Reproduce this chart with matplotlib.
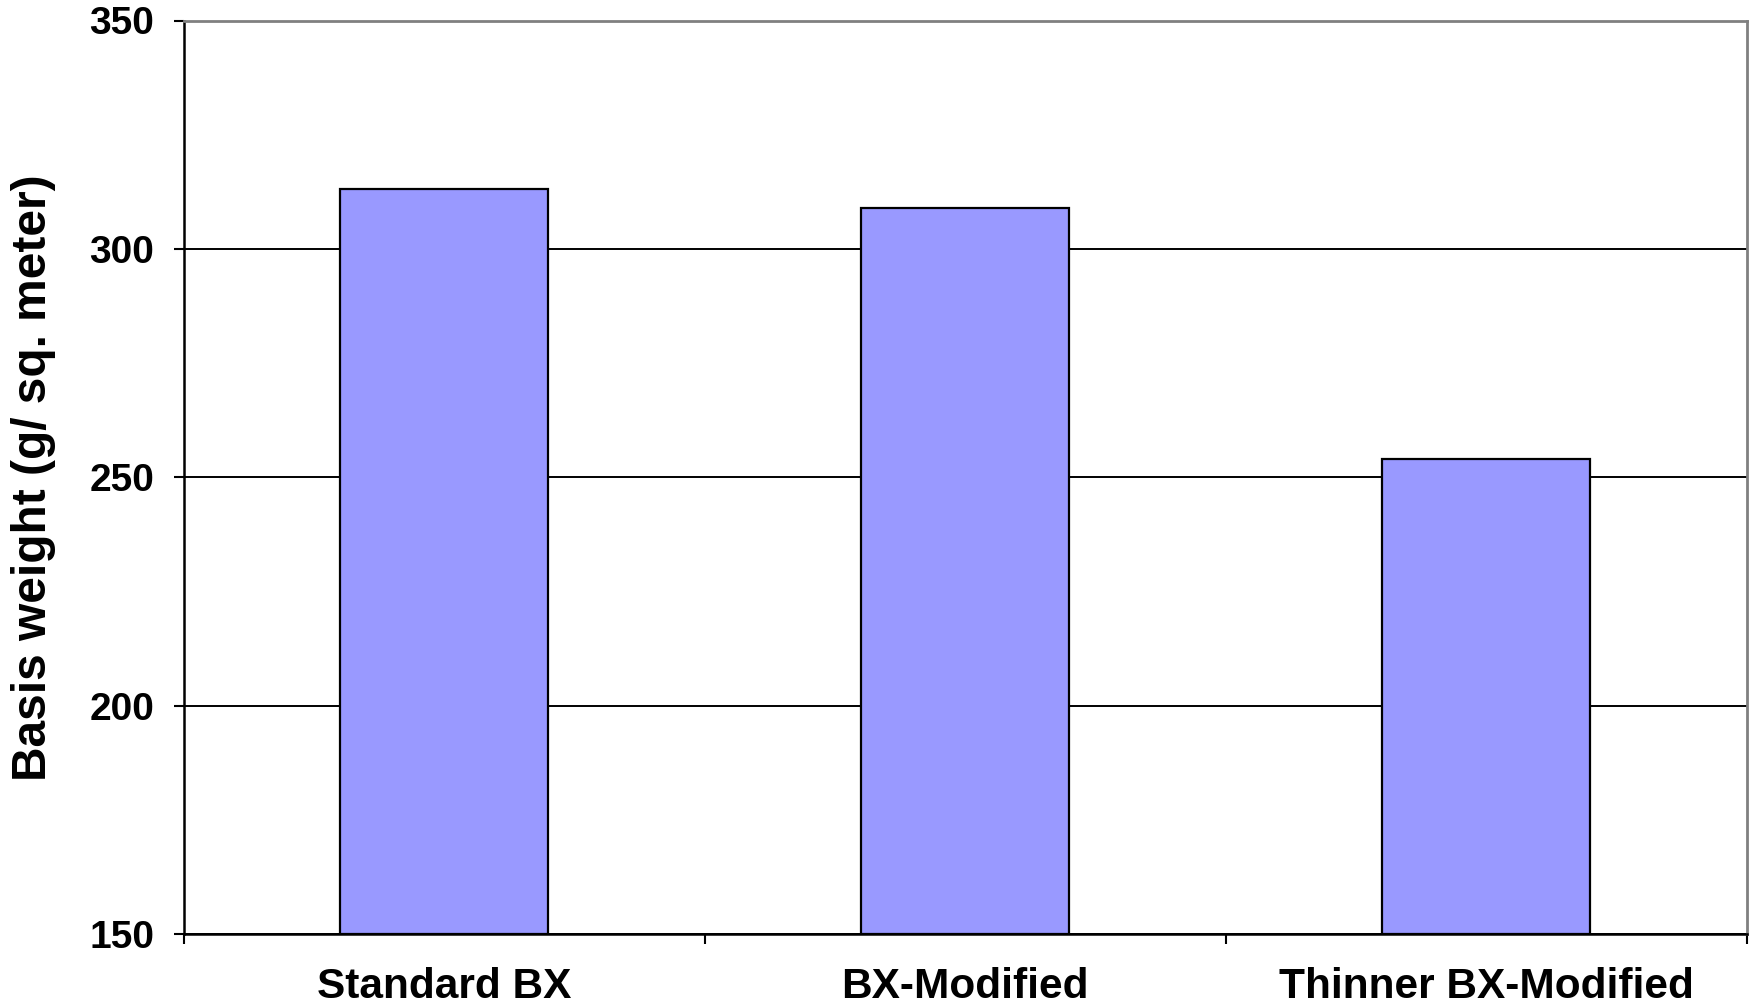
import matplotlib
matplotlib.use("Agg")
import matplotlib.pyplot as plt
from matplotlib.ticker import FixedLocator, NullFormatter

plt.rcParams['font.family'] = ['Liberation Sans', 'DejaVu Sans']

categories = ["Standard BX", "BX-Modified", "Thinner BX-Modified"]
basis_weight = [313, 309, 254]
y_ticks = [150, 200, 250, 300, 350]

fig = plt.figure(figsize=(17.53, 10.07), dpi=100)
W, H = 1753, 1007
left, right, top, bottom = 183.5, 1746.5, 20.5, 934.0
ax = fig.add_axes([left / W, 1 - bottom / H, (right - left) / W, (bottom - top) / H])

x = list(range(len(categories)))
ax.bar(x, [v - 150 for v in basis_weight], bottom=150, width=0.4,
       color="#9999FF", edgecolor="black", linewidth=1.6, zorder=3)

ax.set_xlim(-0.5, len(categories) - 0.5)
ax.set_ylim(150, 350)
ax.set_yticks(y_ticks)
ax.set_yticklabels([str(t) for t in y_ticks], fontsize=28, fontweight="bold")
ax.yaxis.grid(True, color="black", linewidth=1.4, zorder=1)
ax.set_axisbelow(True)

# category labels centered, tick marks at category boundaries
ax.xaxis.set_major_locator(FixedLocator([-0.5, 0.5, 1.5, 2.5]))
ax.xaxis.set_major_formatter(NullFormatter())
ax.xaxis.set_minor_locator(FixedLocator(x))
ax.set_xticklabels(categories, minor=True, fontsize=30.5, fontweight="bold")
ax.tick_params(axis="x", which="major", direction="out", length=7.5, width=1.5)
ax.tick_params(axis="x", which="minor", length=0, pad=24)
ax.tick_params(axis="y", direction="out", length=7, width=1.5, pad=14)

ax.set_ylabel("Basis weight (g/ sq. meter)", fontsize=34.5, fontweight="bold", labelpad=24)

for side in ("left", "bottom"):
    ax.spines[side].set_color("black")
    ax.spines[side].set_linewidth(1.8)
for side in ("top", "right"):
    ax.spines[side].set_color("#808080")
    ax.spines[side].set_linewidth(2.0)

fig.savefig("out.png", dpi=100, facecolor="white")
